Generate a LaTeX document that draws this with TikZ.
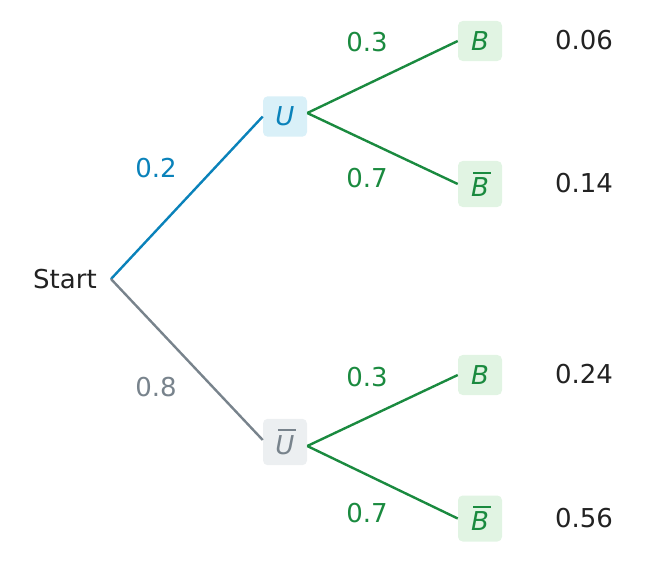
\documentclass[tikz,border=0pt]{standalone}
\usepackage{fontspec}
\setmainfont{DejaVu Sans}
\definecolor{cblue}{HTML}{0A82BA}
\definecolor{cgrey}{HTML}{78838C}
\definecolor{cgreen}{HTML}{1A8A3F}
\definecolor{ctext}{HTML}{222222}
\definecolor{fblue}{HTML}{D9F0F8}
\definecolor{fgrey}{HTML}{ECEFF1}
\definecolor{fgreen}{HTML}{E1F4E3}
\newcommand\ovl[1]{\setbox0\hbox{\itshape #1}\rlap{\hspace{0.09em}\raisebox{\dimexpr\ht0+3pt\relax}{\rule{0.68em}{1.5pt}}}\box0}
\tikzset{
  every node/.style={font=\fontsize{19.5}{23}\selectfont},
  box/.style={rounded corners=3.5pt, minimum width=33pt, inner xsep=2pt, inner ysep=7.9pt},
  ubox/.style={box, fill=fblue, text=cblue},
  ugbox/.style={box, fill=fgrey, text=cgrey},
  bbox/.style={box, fill=fgreen, text=cgreen},
  edge/.style={line width=1.8pt},
  plab/.style={inner sep=0pt},
  res/.style={inner sep=0pt, text=ctext},
}
\begin{document}
\begin{tikzpicture}[x=0.75pt,y=-0.75pt]
\useasboundingbox (0,0) rectangle (648,564);
\node[text=ctext, anchor=east, inner xsep=10.5pt, inner ysep=0pt] (start) at (111,279) {Start};
\node[ubox] (u) at (285,116.5) {\textit{U}};
\node[ugbox] (ub) at (285,442) {\ovl{U}};
\node[bbox] (b1) at (480,41) {\textit{B}};
\node[bbox] (b2) at (480,184) {\ovl{B}};
\node[bbox] (b3) at (480,375) {\textit{B}};
\node[bbox] (b4) at (480,518.5) {\ovl{B}};
\draw[edge, cblue] (start.east) -- (u.west);
\draw[edge, cgrey] (start.east) -- ([yshift=1.5pt]ub.west);
\draw[edge, cgreen] ([yshift=2.6pt]u.east) -- (b1.west);
\draw[edge, cgreen] ([yshift=2.6pt]u.east) -- (b2.west);
\draw[edge, cgreen] ([yshift=-3pt]ub.east) -- (b3.west);
\draw[edge, cgreen] ([yshift=-3pt]ub.east) -- (b4.west);
\node[plab, text=cblue] (l1) at (156,168) {0.2};
\node[plab, text=cgrey] (l2) at (156,387) {0.8};
\node[plab, text=cgreen] (l3) at (367,42) {0.3};
\node[plab, text=cgreen] (l4) at (367,178) {0.7};
\node[plab, text=cgreen] (l5) at (367,377) {0.3};
\node[plab, text=cgreen] (l6) at (367,513) {0.7};
\node[res] (r1) at (584,40) {0.06};
\node[res] (r2) at (584,183) {0.14};
\node[res] (r3) at (584,374) {0.24};
\node[res] (r4) at (584,518) {0.56};
\end{tikzpicture}
\end{document}
